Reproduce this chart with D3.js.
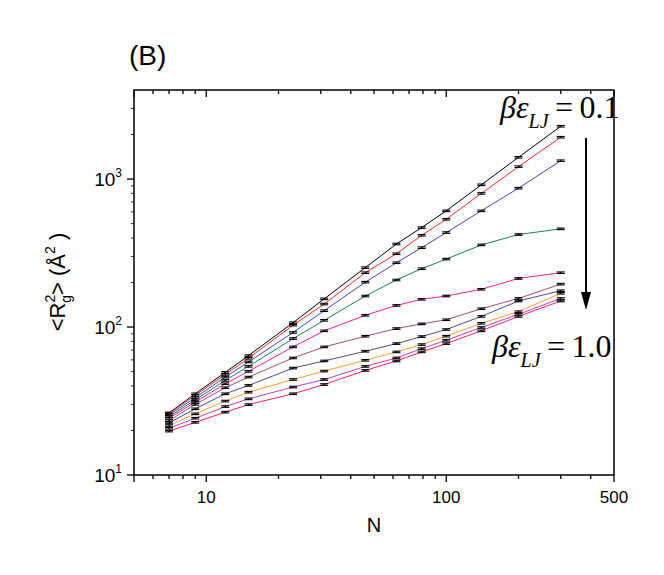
<!DOCTYPE html>
<html>
<head>
<meta charset="utf-8">
<script src="https://cdnjs.cloudflare.com/ajax/libs/d3/7.8.5/d3.min.js"></script>
<style>
  body { margin: 0; background: #fff; }
</style>
</head>
<body>
<svg id="chart"></svg>
<script>
// chain lengths
var chainN = [7, 9, 12, 15, 23, 31, 46, 62, 79, 100, 140, 200, 300];

// <Rg^2> for beta*eps_LJ from 0.1 (top) to 1.0 (bottom)
var rg01 = [26.3, 35.4, 49.4, 64.1, 107, 155, 252, 364, 470, 610, 915, 1403, 2275];
var rg02 = [26.0, 34.5, 47.9, 61.5, 103, 143, 233, 313, 417, 535, 800, 1213, 1918];
var rg03 = [25.5, 33.3, 45.9, 58.1, 91.9, 129, 201, 272, 344, 435, 610, 868, 1331];
var rg04 = [24.8, 32.2, 43.6, 54.2, 83.6, 111, 162, 208, 248, 288, 359, 422, 461];
var rg05 = [24.2, 31.1, 41.4, 50.2, 73.4, 94.3, 120, 140, 154, 162, 180, 213, 233];
var rg06 = [23.3, 30.0, 38.9, 45.9, 61.8, 73.4, 86.7, 97.7, 105, 112, 133, 156, 195];
var rg07 = [22.5, 28.0, 35.4, 40.3, 52.8, 59.0, 68.6, 77.3, 86.2, 96.2, 118, 150, 176];
var rg08 = [21.6, 25.9, 31.6, 36.3, 44.2, 50.4, 59.6, 67.9, 76.1, 86.7, 106, 127, 169];
var rg09 = [20.7, 24.2, 29.0, 32.7, 39.3, 44.2, 54.2, 61.8, 71.5, 81.4, 99.3, 122, 156];
var rg10 = [19.8, 22.7, 26.6, 29.9, 35.4, 40.9, 50.9, 59.0, 67.9, 77.3, 94.3, 118, 150];

var seriesValues = [rg01, rg02, rg03, rg04, rg05, rg06, rg07, rg08, rg09, rg10];
var seriesColors = ["#000000", "#ff2a2a", "#4646b8", "#1f7f5f", "#ff1fa0",
                    "#a0507c", "#4c4c8e", "#ffa030", "#b046c4", "#ff2466"];

var xMajor = [5, 10, 100, 500];
var xLabels = [10, 100, 500];
var xMinor = [6, 7, 8, 9, 20, 30, 40, 50, 60, 70, 80, 90, 200, 300, 400];
var yMajor = [10, 100, 1000];
var yMinor = [20, 30, 40, 50, 60, 70, 80, 90, 200, 300, 400, 500, 600, 700, 800, 900, 2000, 3000];

var relErr = 0.012;

var sans = "Arial, 'Liberation Sans', sans-serif";
var serif = "'Liberation Serif', 'Times New Roman', 'DejaVu Serif', serif";

var width = 664, height = 575;
var margin = {left: 134, right: 50, top: 90, bottom: 100};

var svg = d3.select("#chart")
    .attr("width", width)
    .attr("height", height)
    .style("font-family", sans);

var x = d3.scaleLog().domain([5, 500]).range([margin.left, width - margin.right]);
var y = d3.scaleLog().domain([10, 4000]).range([height - margin.bottom, margin.top]);

var x0 = x.range()[0], x1 = x.range()[1];
var y0 = y.range()[0], y1 = y.range()[1];

// frame
svg.append("rect")
    .attr("x", x0).attr("y", y1)
    .attr("width", x1 - x0).attr("height", y0 - y1)
    .attr("fill", "none").attr("stroke", "#000").attr("stroke-width", 1.5);

var ticks = svg.append("g").attr("stroke", "#000").attr("stroke-width", 1.3);

// bottom ticks outward, top ticks inward
xMajor.forEach(function (v) {
    ticks.append("line").attr("x1", x(v)).attr("x2", x(v)).attr("y1", y0).attr("y2", y0 + 7);
    ticks.append("line").attr("x1", x(v)).attr("x2", x(v)).attr("y1", y1).attr("y2", y1 + 7);
});
xMinor.forEach(function (v) {
    ticks.append("line").attr("x1", x(v)).attr("x2", x(v)).attr("y1", y0).attr("y2", y0 + 4);
    ticks.append("line").attr("x1", x(v)).attr("x2", x(v)).attr("y1", y1).attr("y2", y1 + 4);
});
// left ticks (outward)
yMajor.forEach(function (v) {
    ticks.append("line").attr("x1", x0 - 7).attr("x2", x0).attr("y1", y(v)).attr("y2", y(v));
});
yMinor.forEach(function (v) {
    ticks.append("line").attr("x1", x0 - 3).attr("x2", x0).attr("y1", y(v)).attr("y2", y(v))
        .attr("stroke-width", 0.8);
});

// x tick labels
svg.selectAll(".xl").data(xLabels).enter().append("text")
    .attr("x", function (d) { return x(d); })
    .attr("y", y0 + 28)
    .attr("text-anchor", "middle")
    .attr("font-size", 17)
    .text(function (d) { return d; });

// y tick labels 10^n
yMajor.forEach(function (v) {
    var t = svg.append("text")
        .attr("x", x0 - 12)
        .attr("y", y(v) + 7)
        .attr("text-anchor", "end")
        .attr("font-size", 19);
    t.append("tspan").text("10");
    t.append("tspan").attr("dy", -9).attr("font-size", 12).text(Math.round(Math.log10(v)));
});

// axis titles
svg.append("text")
    .attr("x", (x0 + x1) / 2)
    .attr("y", 532)
    .attr("text-anchor", "middle")
    .attr("font-size", 20)
    .text("N");

var yt = svg.append("text")
    .attr("transform", "translate(65,282) rotate(-90)")
    .attr("text-anchor", "middle")
    .attr("font-size", 22);
yt.append("tspan").text("<R");
yt.append("tspan").attr("font-size", 14).attr("dy", -10).text("2");
yt.append("tspan").attr("font-size", 14).attr("dx", -8).attr("dy", 16).text("g");
yt.append("tspan").attr("dy", -6).text(">\u00a0(Å");
yt.append("tspan").attr("font-size", 14).attr("dy", -10).text("2");
yt.append("tspan").attr("dy", 10).text("\u00a0)");

// panel label
svg.append("text")
    .attr("x", 129).attr("y", 65)
    .attr("font-size", 28)
    .text("(B)");

// series
var line = d3.line()
    .x(function (d) { return x(d[0]); })
    .y(function (d) { return y(d[1]); });

seriesValues.forEach(function (vals, i) {
    var pts = chainN.map(function (n, j) { return [n, vals[j]]; });
    svg.append("path")
        .datum(pts)
        .attr("d", line)
        .attr("fill", "none")
        .attr("stroke", seriesColors[i])
        .attr("stroke-width", 1);

    var eb = svg.append("g").attr("stroke", "#000").attr("stroke-width", 1.1);
    pts.forEach(function (p) {
        var ya = y(p[1] * (1 + relErr)), yb = y(p[1] * (1 - relErr));
        var cx = x(p[0]);
        eb.append("line").attr("x1", cx).attr("x2", cx).attr("y1", ya).attr("y2", yb);
        eb.append("line").attr("x1", cx - 4).attr("x2", cx + 4).attr("y1", ya).attr("y2", ya);
        eb.append("line").attr("x1", cx - 4).attr("x2", cx + 4).attr("y1", yb).attr("y2", yb);
    });
});

// annotations
function betaLabel(xp, yp, val) {
    var t = svg.append("text")
        .attr("x", xp).attr("y", yp)
        .style("font-family", serif)
        .attr("font-size", 32);
    t.append("tspan").attr("font-style", "italic").text("βε");
    t.append("tspan").attr("font-style", "italic").attr("font-size", 20).attr("dy", 10).text("LJ");
    t.append("tspan").attr("dy", -10).text("\u2009=\u2009" + val);
}
betaLabel(500, 118, "0.1");
betaLabel(492, 357, "1.0");

// arrow
svg.append("line")
    .attr("x1", 586).attr("x2", 586)
    .attr("y1", 138).attr("y2", 296)
    .attr("stroke", "#000").attr("stroke-width", 2);
svg.append("path")
    .attr("d", "M581,292 L591,292 L586,310 Z")
    .attr("fill", "#000");
</script>
</body>
</html>
